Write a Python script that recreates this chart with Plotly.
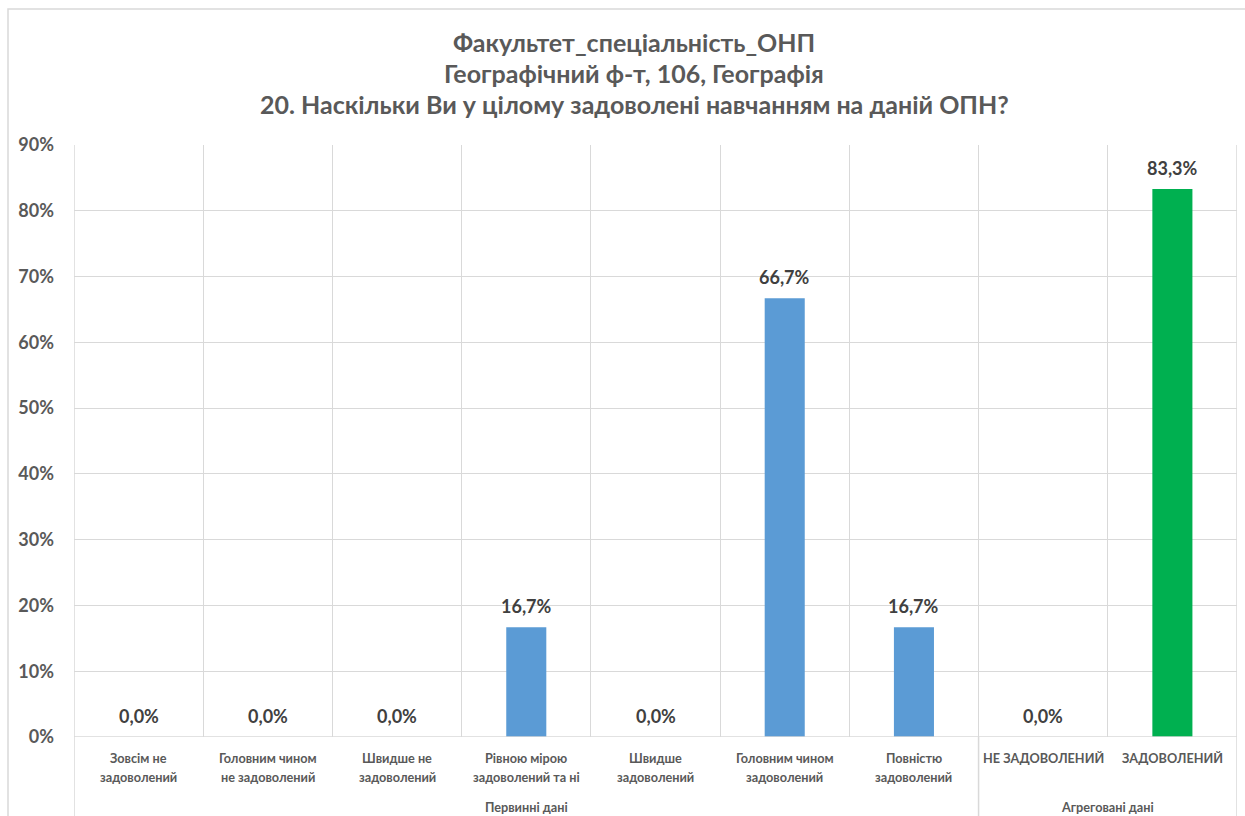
import plotly.graph_objects as go

# Data
categories = ['Зовсім не<br>задоволений', 'Головним чином<br>не задоволений', 'Швидше не<br>задоволений',
              'Рівною мірою<br>задоволений та ні', 'Швидше<br>задоволений', 'Головним чином<br>задоволений',
              'Повністю<br>задоволений', 'НЕ ЗАДОВОЛЕНИЙ', 'ЗАДОВОЛЕНИЙ']
groups = ['Первинні дані'] * 7 + ['Агреговані дані'] * 2
values = [0.0, 0.0, 0.0, 16.7, 0.0, 66.7, 16.7, 0.0, 83.3]
title_lines = ['Факультет_спеціальність_ОНП', 'Географічний ф-т, 106, Географія',
               '20. Наскільки Ви у цілому задоволені навчанням на даній ОПН?']

# Figure parameters
W, H = 1245, 816
left, right, top, bottom = 74, 8, 145, 79
plot_w = W - left - right
plot_h = H - top - bottom
font = 'Lato'
grey = '#595959'
grid = '#D9D9D9'
colors = ['#5B9BD5' if g == 'Первинні дані' else '#00B050' for g in groups]
xs = list(range(len(categories)))


def px_x(p):  # pixel -> paper
    return (p - left) / plot_w


def px_y(p):
    return (H - bottom - p) / plot_h


fig = go.Figure()
fig.add_trace(go.Bar(x=xs, y=values, marker=dict(color=colors, line=dict(width=0)),
                     width=0.31, hoverinfo='skip'))

fig.update_xaxes(range=[-0.5, len(categories) - 0.5], tickvals=[i - 0.5 for i in range(len(categories) + 1)],
                 showticklabels=False, showgrid=True, gridcolor=grid, gridwidth=1,
                 zeroline=False, showline=False, fixedrange=True)
fig.update_yaxes(range=[0, 90], dtick=10, ticksuffix='%', showgrid=True, gridcolor=grid, gridwidth=1,
                 zeroline=False, showline=False, ticklabelstandoff=19, fixedrange=True,
                 tickfont=dict(family=font, size=18, color=grey, weight='bold'))

annotations = []
# Data labels
for x, v in zip(xs, values):
    annotations.append(dict(x=x, y=v, text=f'{v:.1f}%'.replace('.', ','), showarrow=False,
                            yanchor='bottom', yshift=8,
                            font=dict(family=font, size=18, color='#404040', weight='bold')))
# Category labels (one annotation per line)
for x, c in zip(xs, categories):
    for j, line in enumerate(c.split('<br>')):
        annotations.append(dict(x=x, xref='x', y=px_y(758 + 19 * j), yref='paper', text=line,
                                showarrow=False, yanchor='middle',
                                font=dict(family=font, size=12.7, color=grey, weight='bold')))
# Group labels
group_names = list(dict.fromkeys(groups))
for g in group_names:
    idx = [i for i, gg in enumerate(groups) if gg == g]
    annotations.append(dict(x=(idx[0] + idx[-1]) / 2, xref='x', y=px_y(807), yref='paper', text=g,
                            showarrow=False, yanchor='middle',
                            font=dict(family=font, size=12.7, color=grey, weight='bold')))
# Title
for i, t in enumerate(title_lines):
    annotations.append(dict(x=px_x(634), xref='paper', y=px_y(42 + 31 * i), yref='paper', text=t,
                            showarrow=False, yanchor='middle', xanchor='center',
                            font=dict(family=font, size=25, color=grey, weight='bold')))

shapes = [
    # chart frame
    dict(type='rect', xref='paper', yref='paper', x0=px_x(8), x1=px_x(1260), y0=px_y(840), y1=px_y(9),
         line=dict(color=grid, width=1.5), fillcolor='rgba(0,0,0,0)', layer='below'),
    # axis separators
    dict(type='line', xref='x', yref='paper', x0=-0.5, x1=-0.5, y0=px_y(830), y1=1,
         line=dict(color=grid, width=1.5)),
    dict(type='line', xref='x', yref='paper', x0=6.5, x1=6.5, y0=px_y(830), y1=0,
         line=dict(color=grid, width=1.5)),
    dict(type='line', xref='x', yref='paper', x0=8.5, x1=8.5, y0=px_y(830), y1=1,
         line=dict(color=grid, width=1.5)),
    dict(type='line', xref='paper', yref='y', x0=0, x1=1, y0=0, y1=0,
         line=dict(color=grid, width=1.5)),
]

fig.update_layout(width=W, height=H, margin=dict(l=left, r=right, t=top, b=bottom),
                  plot_bgcolor='white', paper_bgcolor='white', showlegend=False,
                  annotations=annotations, shapes=shapes)

fig.write_html('out.html', config={'displayModeBar': False},
               post_script="document.body.style.margin='0';")
